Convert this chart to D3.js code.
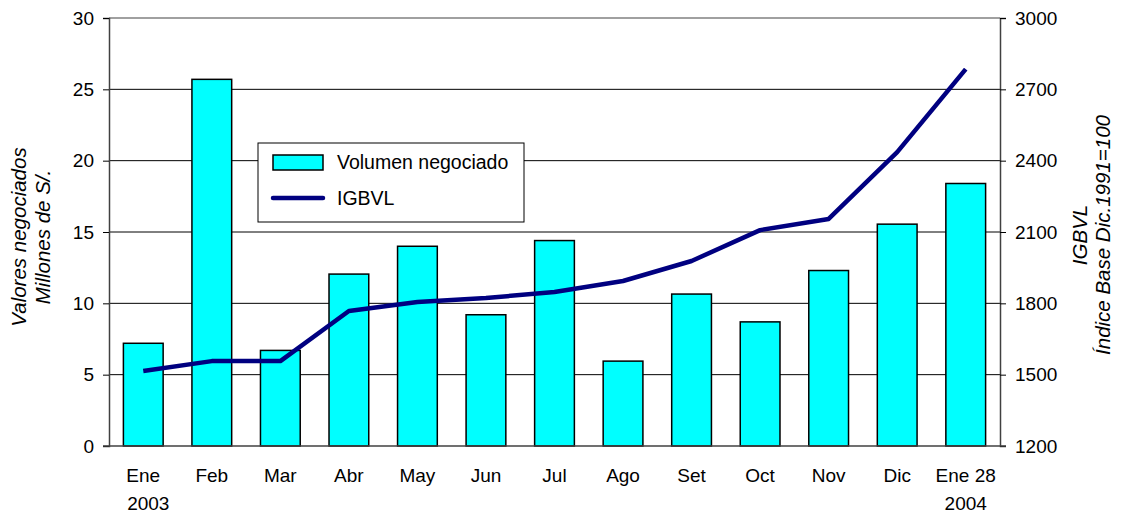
<!DOCTYPE html>
<html lang="es">
<head>
    <meta charset="utf-8">
    <style>
        body { margin: 0; background: #fff; }
        text { font-family: "Liberation Sans", Arial, sans-serif; fill: #000; }
        .bar { fill: #00ffff; stroke: #000; stroke-width: 1.5; }
        .grid line { stroke: #000; stroke-width: 1; }
    </style>
    <script src="https://d3js.org/d3.v7.min.js"></script>
</head>
<body>
    <svg width="1125" height="513"></svg>
    <script>
        // data
        var months = ["Ene", "Feb", "Mar", "Abr", "May", "Jun", "Jul", "Ago", "Set", "Oct", "Nov", "Dic", "Ene 28"];
        var years = ["2003", "", "", "", "", "", "", "", "", "", "", "", "2004"];
        var volumen = [7.2, 25.7, 6.7, 12.05, 14.0, 9.2, 14.4, 5.95, 10.65, 8.7, 12.3, 15.55, 18.4];
        var igbvl = [1515, 1557, 1557, 1768, 1806, 1822, 1848, 1894, 1978, 2108, 2155, 2436, 2785];
        var leftTicks = [0, 5, 10, 15, 20, 25, 30];
        var rightTicks = [1200, 1500, 1800, 2100, 2400, 2700, 3000];

        var svg = d3.select("svg"),
            pLeft = 109, pRight = 1000, pTop = 18, pBottom = 446;

        var x = d3.scaleBand()
            .domain(months)
            .range([pLeft, pRight])
            .paddingInner(0.42)
            .paddingOuter(0.21);

        var xc = function(m) { return x(m) + x.bandwidth() / 2; };

        var y = d3.scaleLinear().domain([0, 30]).range([pBottom, pTop]);
        var y2 = d3.scaleLinear().domain([1200, 3000]).range([pBottom, pTop]);

        // gridlines
        svg.append("g")
            .attr("class", "grid")
            .selectAll("line")
            .data(leftTicks.filter(function(d) { return d > 0 && d < 30; }))
            .enter().append("line")
            .attr("x1", pLeft).attr("x2", pRight)
            .attr("y1", function(d) { return y(d); })
            .attr("y2", function(d) { return y(d); });

        // top border
        svg.append("line")
            .attr("x1", pLeft).attr("x2", pRight)
            .attr("y1", y(30)).attr("y2", y(30))
            .attr("stroke", "#808080").attr("stroke-width", 1.5);

        // bars
        svg.selectAll(".bar")
            .data(volumen)
            .enter().append("rect")
            .attr("class", "bar")
            .attr("x", function(d, i) { return x(months[i]); })
            .attr("y", function(d) { return y(d); })
            .attr("width", x.bandwidth())
            .attr("height", function(d) { return pBottom - y(d); });

        // line
        var line = d3.line()
            .x(function(d, i) { return xc(months[i]); })
            .y(function(d) { return y2(d); });

        svg.append("path")
            .datum(igbvl)
            .attr("d", line)
            .attr("fill", "none")
            .attr("stroke", "#000080")
            .attr("stroke-width", 4.5)
            .attr("stroke-linejoin", "round");

        // axes
        var yAxis = svg.append("g")
            .attr("transform", "translate(" + pLeft + ",0)")
            .call(d3.axisLeft(y).tickValues(leftTicks).tickSize(6).tickPadding(9));

        var yAxis2 = svg.append("g")
            .attr("transform", "translate(" + pRight + ",0)")
            .call(d3.axisRight(y2).tickValues(rightTicks).tickFormat(d3.format("d")).tickSize(6).tickPadding(9));

        [yAxis, yAxis2].forEach(function(a) {
            a.select(".domain").attr("stroke", "#404040").attr("stroke-width", 1.5);
            a.selectAll(".tick line").attr("stroke", "#000");
            a.selectAll("text")
                .attr("font-size", "19px")
                .attr("font-family", "Liberation Sans, Arial, sans-serif")
                .attr("fill", "#000");
        });

        // bottom axis line
        svg.append("line")
            .attr("x1", pLeft - 6).attr("x2", pRight + 6)
            .attr("y1", pBottom).attr("y2", pBottom)
            .attr("stroke", "#404040").attr("stroke-width", 1.5);

        // category labels
        var labels = svg.append("g")
            .selectAll("text")
            .data(months)
            .enter().append("text")
            .attr("text-anchor", "middle")
            .attr("font-size", "19px");

        labels.append("tspan")
            .attr("x", function(d) { return xc(d); })
            .attr("y", 482)
            .text(function(d) { return d; });

        labels.append("tspan")
            .attr("x", function(d, i) { return xc(d) + (i === 0 ? 5 : 0); })
            .attr("y", 510)
            .text(function(d, i) { return years[i]; });

        // axis titles
        var lt = svg.append("text")
            .attr("transform", "translate(26,237) rotate(-90)")
            .attr("text-anchor", "middle")
            .attr("font-size", "20.5px")
            .attr("font-style", "italic");
        lt.append("tspan").attr("x", 0).attr("dy", 0).text("Valores negociados");
        lt.append("tspan").attr("x", 0).attr("dy", 24).text("Millones de S/.");

        var rt = svg.append("text")
            .attr("transform", "translate(1087,235) rotate(-90)")
            .attr("text-anchor", "middle")
            .attr("font-size", "20.5px")
            .attr("font-style", "italic");
        rt.append("tspan").attr("x", 0).attr("dy", 0).text("IGBVL");
        rt.append("tspan").attr("x", 0).attr("dy", 23).text("Índice Base Dic.1991=100");

        // legend
        var lg = svg.append("g").attr("transform", "translate(258,143)");
        lg.append("rect")
            .attr("width", 266).attr("height", 79)
            .attr("fill", "#fff").attr("stroke", "#000").attr("stroke-width", 1);
        lg.append("rect")
            .attr("class", "bar")
            .attr("x", 15).attr("y", 12).attr("width", 50).attr("height", 15);
        lg.append("text")
            .attr("x", 79).attr("y", 26)
            .attr("font-size", "19.5px")
            .text("Volumen negociado");
        lg.append("line")
            .attr("x1", 15).attr("x2", 65).attr("y1", 55).attr("y2", 55)
            .attr("stroke", "#000080").attr("stroke-width", 4.5).attr("stroke-linecap", "round");
        lg.append("text")
            .attr("x", 79).attr("y", 62)
            .attr("font-size", "19.5px")
            .text("IGBVL");
    </script>
</body>
</html>
